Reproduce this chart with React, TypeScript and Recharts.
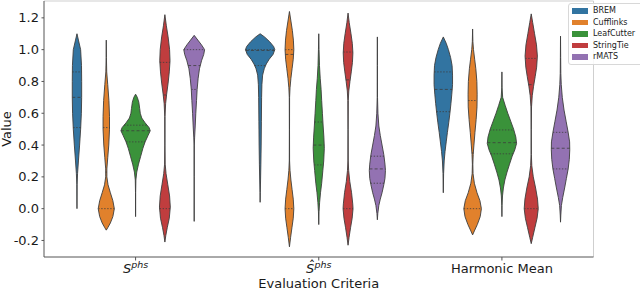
import React from 'react';
import { ScatterChart, Scatter, XAxis, YAxis, ReferenceLine } from 'recharts';

const categories = ['S', 'S', 'Harmonic Mean'];
const categoryHat = [false, true, false];
const categorySup = ['phs', 'phs', ''];
const methods = ['BREM', 'Cufflinks', 'LeafCutter', 'StringTie', 'rMATS'];
const colors = ['#3274a1', '#e1812c', '#3a923a', '#c03d3e', '#9372b2'];
const yTicks = [-0.2, 0, 0.2, 0.4, 0.6, 0.8, 1.0, 1.2];

// violin outlines: [value, relative density], top to bottom
const bremS = [[1.10, 0], [1.06, 0.1], [1.0, 0.25], [0.9, 0.31], [0.8, 0.32], [0.7, 0.32], [0.6, 0.3], [0.5, 0.25], [0.4, 0.18], [0.3, 0.1], [0.22, 0.04], [0.15, 0.01], [0.0, 0]];
const cuffS = [[1.06, 0], [0.95, 0.01], [0.86, 0.03], [0.78, 0.1], [0.68, 0.18], [0.58, 0.22], [0.5, 0.22], [0.4, 0.17], [0.32, 0.1], [0.25, 0.04], [0.2, 0.04], [0.15, 0.12], [0.1, 0.28], [0.05, 0.45], [0.0, 0.55], [-0.05, 0.45], [-0.09, 0.28], [-0.12, 0.1], [-0.135, 0]];
const leafS = [[0.72, 0], [0.7, 0.12], [0.67, 0.22], [0.63, 0.28], [0.6, 0.32], [0.57, 0.42], [0.54, 0.65], [0.51, 0.92], [0.49, 1.0], [0.46, 0.85], [0.42, 0.65], [0.38, 0.5], [0.33, 0.35], [0.28, 0.2], [0.23, 0.08], [0.18, 0.02], [0.1, 0.005], [-0.05, 0]];
const stringS = [[1.22, 0], [1.15, 0.1], [1.08, 0.22], [1.0, 0.32], [0.93, 0.35], [0.86, 0.3], [0.79, 0.22], [0.72, 0.12], [0.66, 0.05], [0.58, 0.01], [0.4, 0.005], [0.28, 0.02], [0.22, 0.08], [0.15, 0.2], [0.08, 0.32], [0.01, 0.37], [-0.06, 0.3], [-0.12, 0.16], [-0.17, 0.06], [-0.21, 0]];
const rmatsS = [[1.09, 0], [1.06, 0.25], [1.03, 0.5], [1.0, 0.71], [0.97, 0.65], [0.93, 0.5], [0.88, 0.36], [0.82, 0.27], [0.75, 0.2], [0.68, 0.16], [0.6, 0.11], [0.52, 0.07], [0.45, 0.03], [0.4, 0.01], [0.2, 0.003], [-0.08, 0]];

const bremShat = [[1.10, 0], [1.08, 0.3], [1.05, 0.65], [1.02, 0.92], [1.0, 1.0], [0.97, 0.88], [0.94, 0.62], [0.91, 0.42], [0.88, 0.28], [0.84, 0.17], [0.78, 0.12], [0.7, 0.1], [0.55, 0.085], [0.4, 0.07], [0.28, 0.05], [0.18, 0.03], [0.1, 0.01], [0.04, 0]];
const cuffShat = [[1.24, 0], [1.18, 0.1], [1.12, 0.2], [1.06, 0.27], [1.0, 0.3], [0.94, 0.26], [0.88, 0.18], [0.82, 0.1], [0.76, 0.04], [0.7, 0.01], [0.5, 0.005], [0.3, 0.01], [0.24, 0.04], [0.18, 0.1], [0.12, 0.18], [0.06, 0.26], [0.0, 0.3], [-0.06, 0.26], [-0.12, 0.17], [-0.18, 0.08], [-0.24, 0]];
const leafShat = [[1.10, 0], [1.0, 0.02], [0.9, 0.05], [0.82, 0.1], [0.75, 0.16], [0.68, 0.2], [0.6, 0.25], [0.52, 0.3], [0.45, 0.35], [0.38, 0.38], [0.3, 0.34], [0.24, 0.28], [0.16, 0.2], [0.1, 0.12], [0.04, 0.06], [-0.02, 0.02], [-0.1, 0]];
const stringShat = [[1.23, 0], [1.17, 0.08], [1.1, 0.2], [1.04, 0.29], [0.98, 0.33], [0.92, 0.3], [0.86, 0.22], [0.8, 0.13], [0.74, 0.05], [0.68, 0.015], [0.5, 0.005], [0.3, 0.01], [0.24, 0.04], [0.17, 0.12], [0.1, 0.24], [0.03, 0.32], [0.0, 0.34], [-0.06, 0.28], [-0.12, 0.17], [-0.18, 0.07], [-0.23, 0]];
const rmatsShat = [[1.08, 0], [0.9, 0.005], [0.7, 0.01], [0.6, 0.04], [0.52, 0.1], [0.46, 0.2], [0.4, 0.32], [0.34, 0.44], [0.28, 0.52], [0.24, 0.55], [0.19, 0.52], [0.15, 0.44], [0.1, 0.32], [0.06, 0.2], [0.02, 0.1], [-0.03, 0.03], [-0.07, 0]];

const bremHM = [[1.08, 0], [1.04, 0.2], [1.0, 0.35], [0.95, 0.5], [0.9, 0.6], [0.84, 0.63], [0.78, 0.63], [0.72, 0.58], [0.66, 0.52], [0.6, 0.45], [0.54, 0.37], [0.48, 0.28], [0.42, 0.2], [0.36, 0.12], [0.3, 0.06], [0.22, 0.02], [0.1, 0]];
const cuffHM = [[1.13, 0], [1.05, 0.02], [1.0, 0.06], [0.94, 0.14], [0.88, 0.22], [0.8, 0.29], [0.72, 0.31], [0.64, 0.3], [0.56, 0.24], [0.48, 0.16], [0.4, 0.09], [0.34, 0.04], [0.28, 0.015], [0.22, 0.03], [0.16, 0.12], [0.1, 0.3], [0.05, 0.5], [0.0, 0.6], [-0.05, 0.52], [-0.1, 0.32], [-0.14, 0.12], [-0.165, 0]];
const leafHM = [[0.86, 0], [0.76, 0.01], [0.7, 0.05], [0.65, 0.22], [0.6, 0.4], [0.55, 0.6], [0.5, 0.8], [0.45, 0.95], [0.41, 1.0], [0.37, 0.88], [0.33, 0.7], [0.28, 0.52], [0.23, 0.35], [0.18, 0.2], [0.13, 0.1], [0.08, 0.04], [0.02, 0.01], [-0.05, 0]];
const stringHM = [[1.225, 0], [1.17, 0.1], [1.1, 0.23], [1.03, 0.36], [0.96, 0.42], [0.89, 0.37], [0.83, 0.27], [0.77, 0.16], [0.71, 0.07], [0.64, 0.02], [0.5, 0.005], [0.34, 0.01], [0.27, 0.04], [0.2, 0.14], [0.13, 0.3], [0.06, 0.43], [0.0, 0.48], [-0.06, 0.4], [-0.12, 0.25], [-0.18, 0.1], [-0.22, 0]];
const rmatsHM = [[1.085, 0], [0.95, 0.01], [0.85, 0.02], [0.78, 0.05], [0.7, 0.12], [0.62, 0.24], [0.55, 0.38], [0.48, 0.52], [0.42, 0.62], [0.37, 0.63], [0.31, 0.6], [0.25, 0.52], [0.19, 0.4], [0.13, 0.28], [0.07, 0.15], [0.02, 0.06], [-0.04, 0.02], [-0.085, 0]];

// quartiles (25 / 50 / 75 %) per method, one triple per category
const bremQ = [[0.51, 0.70, 0.86], [0.90, 0.995, 1.0], [0.61, 0.75, 0.86]];
const cuffQ = [[0.0, 0.23, 0.51], [0.0, 0.97, 1.0], [0.0, 0.35, 0.68]];
const leafQ = [[0.42, 0.49, 0.525], [0.275, 0.40, 0.545], [0.345, 0.415, 0.495]];
const stringQ = [[0.0, 0.715, 0.92], [0.0, 0.81, 0.985], [0.0, 0.78, 0.945]];
const rmatsQ = [[0.75, 0.90, 1.0], [0.16, 0.25, 0.33], [0.25, 0.38, 0.48]];

const outlines = [
  [bremS, bremShat, bremHM],
  [cuffS, cuffShat, cuffHM],
  [leafS, leafShat, leafHM],
  [stringS, stringShat, stringHM],
  [rmatsS, rmatsShat, rmatsHM],
];
const quartiles = [bremQ, cuffQ, leafQ, stringQ, rmatsQ];

const FONT = '"DejaVu Sans", sans-serif';
const INK = '#1a1a1a';
const EDGE = '#3d3d3d';
const SPINE = '#555';
const HALF = 0.08; // widest violin half-width, in category units
const DODGE = 0.16;

const densityAt = (profile: number[][], v: number) => {
  for (let i = 0; i < profile.length - 1; i++) {
    const [v0, d0] = profile[i];
    const [v1, d1] = profile[i + 1];
    if (v <= v0 && v >= v1) {
      const t = v0 === v1 ? 0 : (v0 - v) / (v0 - v1);
      return d0 + (d1 - d0) * t;
    }
  }
  return 0;
};

const pathOf = (pts: { x: number; y: number }[], close: boolean) =>
  pts.map((p, i) => `${i ? 'L' : 'M'}${p.x},${p.y}`).join('') + (close ? 'Z' : '');

const noDot = () => <g />;

const violins: { key: string; data: { x: number; y: number }[]; color: string }[] = [];
const inner: { key: string; data: { x: number; y: number }[]; dash: string }[] = [];

categories.forEach((_, ci) => {
  methods.forEach((m, mi) => {
    const prof = outlines[mi][ci];
    const cx = ci + (mi - 2) * DODGE;
    const right = prof.map(([v, d]) => ({ x: cx + d * HALF, y: v }));
    const left = [...prof].reverse().map(([v, d]) => ({ x: cx - d * HALF, y: v }));
    violins.push({ key: `${m}-${ci}`, data: [...right, ...left], color: colors[mi] });
    quartiles[mi][ci].forEach((q, qi) => {
      const w = densityAt(prof, q) * HALF;
      inner.push({
        key: `${m}-${ci}-q${qi}`,
        data: [{ x: cx - w, y: q }, { x: cx + w, y: q }],
        dash: qi === 1 ? '3 2.2' : '1.4 1.6',
      });
    });
  });
});

const CategoryTick = (props: any) => {
  const { x, y, payload } = props;
  const i = Math.round(payload.value);
  const sup = categorySup[i];
  return (
    <text textAnchor="middle" fontFamily={FONT} fontSize={13} fill={INK}>
      <tspan x={x} y={y + 9} fontStyle={sup ? 'italic' : 'normal'}>
        {categories[i]}
      </tspan>
      {sup && (
        <tspan fontStyle="italic" fontSize={9.5} dy={-5}>
          {sup}
        </tspan>
      )}
      {categoryHat[i] && (
        <tspan x={x - 6.8} y={y + 6.2} fontSize={13}>
          ˆ
        </tspan>
      )}
    </text>
  );
};

const LegendBox = () => (
  <div
    style={{
      position: 'absolute',
      left: 568,
      top: 3,
      width: 90,
      height: 62,
      boxSizing: 'border-box',
      border: '1px solid #d8d8d8',
      borderRadius: 3,
      background: 'rgba(255,255,255,0.85)',
      fontFamily: FONT,
      fontSize: 8,
      color: INK,
      paddingTop: 1,
    }}
  >
    {methods.map((m, i) => (
      <div key={m} style={{ display: 'flex', alignItems: 'center', height: 11.5 }}>
        <span style={{ display: 'inline-block', width: 16, height: 5.5, background: colors[i], marginLeft: 3, marginRight: 5 }} />
        <span>{m}</span>
      </div>
    ))}
  </div>
);

export default function App() {
  return (
    <div style={{ position: 'absolute', left: 0, top: 0, width: 640, height: 290, background: '#fff' }}>
      <ScatterChart width={640} height={290} margin={{ top: 1, right: 46.5, bottom: 0, left: 4 }}>
        <XAxis
          type="number"
          dataKey="x"
          domain={[-0.5, 2.5]}
          ticks={[0, 1, 2]}
          allowDataOverflow
          height={33}
          tick={<CategoryTick />}
          tickSize={3.5}
          tickMargin={3.5}
          axisLine={{ stroke: SPINE }}
          tickLine={{ stroke: SPINE }}
          label={{ value: 'Evaluation Criteria', position: 'insideBottom', offset: 2, fontSize: 13, fill: INK, fontFamily: FONT }}
        />
        <YAxis
          type="number"
          dataKey="y"
          domain={[-0.304, 1.306]}
          ticks={yTicks}
          allowDataOverflow
          width={40}
          tickFormatter={(v: number) => v.toFixed(1)}
          tick={{ fontSize: 13, fill: INK, fontFamily: FONT }}
          tickSize={2.5}
          tickMargin={2.5}
          axisLine={{ stroke: SPINE }}
          tickLine={{ stroke: SPINE }}
          label={{ value: 'Value', angle: -90, position: 'insideLeft', offset: 2, fontSize: 13, fill: INK, fontFamily: FONT, style: { textAnchor: 'middle' } }}
        />
        <ReferenceLine y={1.306} stroke="#cfcfcf" />
        <ReferenceLine x={2.5} stroke="#cfcfcf" />
        {violins.map((v) => (
          <Scatter
            key={v.key}
            data={v.data}
            isAnimationActive={false}
            shape={noDot}
            line={(p: any) => (
              <path d={pathOf(p.points, true)} fill={v.color} stroke={EDGE} strokeWidth={0.9} strokeLinejoin="round" />
            )}
          />
        ))}
        {inner.map((q) => (
          <Scatter
            key={q.key}
            data={q.data}
            isAnimationActive={false}
            shape={noDot}
            line={(p: any) => (
              <path d={pathOf(p.points, false)} fill="none" stroke={EDGE} strokeWidth={0.8} strokeDasharray={q.dash} />
            )}
          />
        ))}
      </ScatterChart>
      <LegendBox />
    </div>
  );
}
